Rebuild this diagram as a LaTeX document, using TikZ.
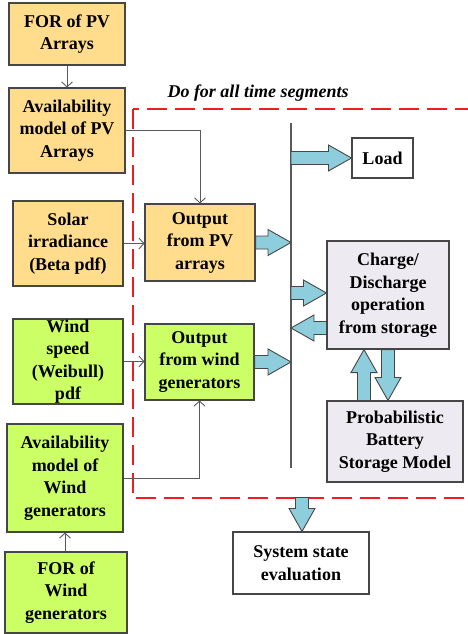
\documentclass[tikz,border=0pt]{standalone}
\usepackage{fontspec}
\setmainfont{Liberation Serif}
\usetikzlibrary{arrows.meta,calc}
\definecolor{pvfill}{RGB}{255,221,140}
\definecolor{windfill}{RGB}{204,255,102}
\definecolor{lavfill}{RGB}{237,234,242}
\definecolor{arrfill}{RGB}{142,205,219}
\definecolor{boxline}{RGB}{70,70,70}
\definecolor{linegray}{RGB}{90,90,90}
\definecolor{dashred}{RGB}{240,30,30}
\tikzset{
  box/.style={draw=boxline, line width=1.1pt, inner sep=0pt, align=center,
    font=\bfseries\fontsize{18}{22.5}\selectfont},
  pvbox/.style={box, fill=pvfill},
  windbox/.style={box, fill=windfill},
  lavbox/.style={box, fill=lavfill},
  whitebox/.style={box, fill=white},
  conn/.style={draw=linegray, line width=0.9pt, -{Straight Barb[length=5pt,width=11pt]}},
  fatarr/.style={draw=boxline, line width=0.9pt, fill=arrfill, line join=miter},
  busline/.style={draw=linegray, line width=1.2pt},
  looprect/.style={draw=dashred, line width=1.8pt, dash pattern=on 20pt off 8pt},
}
\newcommand\fatarrow[2]{%
  \path[fatarr] let \p1=(#1), \p2=(#2),
    \n1={atan2(\y2-\y1,\x2-\x1)}, \n2={veclen(\x2-\x1,\y2-\y1)} in
    [shift={(\p1)}, rotate=\n1]
    (0pt,6.5pt) -- ({\n2-23pt},6.5pt) -- ({\n2-23pt},13pt) -- (\n2,0pt)
    -- ({\n2-23pt},-13pt) -- ({\n2-23pt},-6.5pt) -- (0pt,-6.5pt) -- cycle;}
\begin{document}
\begin{tikzpicture}[x=1pt,y=-1pt]
\useasboundingbox (0,0) rectangle (467,634);

% dashed loop region
\draw[looprect] (133,109) rectangle (475,498);
\node[font=\bfseries\itshape\fontsize{18}{20}\selectfont, inner sep=0pt] (title) at (258,93) {Do for all time segments};

% PV side
\node[pvbox, minimum width=116pt, minimum height=62pt] (forpv) at (67,34) {FOR of PV\\Arrays};
\node[pvbox, minimum width=116pt, minimum height=85pt] (avpv) at (67,130.5) {Availability\\model of PV\\Arrays};
\node[pvbox, minimum width=110pt, minimum height=85pt] (solar) at (68,243.5) {Solar\\irradiance\\(Beta pdf)};
\node[pvbox, minimum width=110pt, minimum height=77pt] (outpv) at (200,242.5) {Output\\from PV\\arrays};

% wind side
\node[windbox, minimum width=110pt, minimum height=85pt] (windsp) at (68,361.5) {Wind\\speed\\(Weibull)\\pdf};
\node[windbox, minimum width=109pt, minimum height=76pt] (outwind) at (199.5,362) {Output\\from wind\\generators};
\node[windbox, minimum width=116pt, minimum height=108pt] (avwind) at (65,478) {Availability\\model of\\Wind\\generators};
\node[windbox, minimum width=122pt, minimum height=81pt] (forwind) at (66,592.5) {FOR of\\Wind\\generators};

% right side
\node[whitebox, minimum width=61pt, minimum height=40pt] (load) at (382.5,158) {Load};
\node[lavbox, minimum width=122pt, minimum height=108pt] (charge) at (388,295) {Charge/\\Discharge\\operation\\from storage};
\node[lavbox, minimum width=136pt, minimum height=81pt] (battery) at (395,441.5) {Probabilistic\\Battery\\Storage Model};
\node[whitebox, minimum width=136pt, minimum height=62pt] (sys) at (301,563) {System state\\evaluation};

% bus
\coordinate (bustop) at (291,123);
\coordinate (busbot) at (291,468);
\draw[busline] (bustop) -- (busbot);

% thin connectors
\draw[conn] (forpv.south) -- (avpv.north);
\draw[conn] (avpv.east) -| (outpv.north);
\draw[conn] (solar.east) -- (solar.east -| outpv.west);
\draw[conn] (windsp.east) -- (windsp.east -| outwind.west);
\draw[conn] (avwind.east) -| (outwind.south);
\draw[conn] (forwind.north -| avwind.south) -- (avwind.south);

% fat arrows
\coordinate (cin) at ([yshift=2pt]charge.west);
\coordinate (cout) at ([yshift=-33pt]charge.west);
\coordinate (bup) at ([xshift=-31pt]battery.north);
\coordinate (bdn) at ([xshift=-7pt]battery.north);
\coordinate (sysin) at ([xshift=1pt]sys.north);
\coordinate (sysst) at ([yshift=34pt]sysin);
\fatarrow{bustop |- load.west}{load.west}
\fatarrow{outpv.east}{outpv.east -| bustop}
\fatarrow{outwind.east}{outwind.east -| bustop}
\fatarrow{bustop |- cin}{cin}
\fatarrow{cout}{bustop |- cout}
\fatarrow{bup}{bup |- charge.south}
\fatarrow{bdn |- charge.south}{bdn}
\fatarrow{sysst}{sysin}
\end{tikzpicture}
\end{document}
